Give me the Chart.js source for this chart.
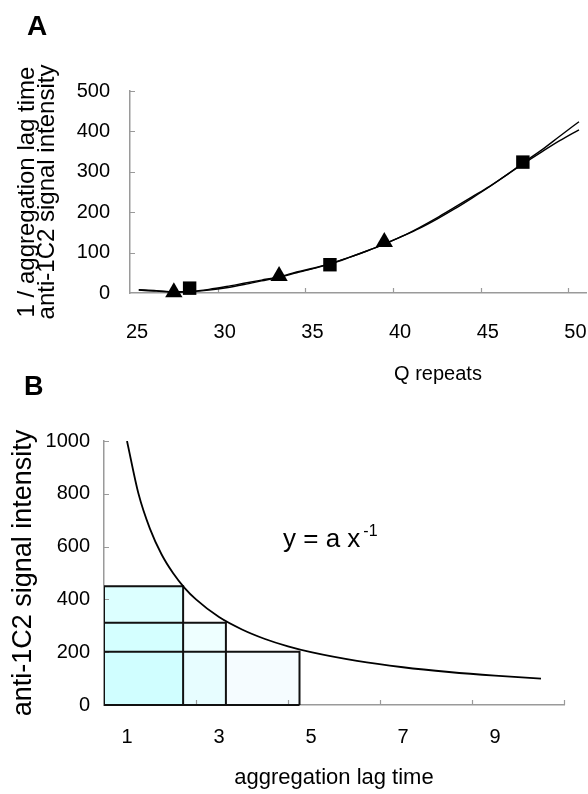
<!DOCTYPE html>
<html>
<head>
<meta charset="utf-8">
<script src="https://cdn.jsdelivr.net/npm/chart.js@4.4.1/dist/chart.umd.min.js"></script>
<style>
  html, body { margin: 0; padding: 0; background: #fff; }
  body { width: 588px; height: 794px; position: relative; overflow: hidden; }
  .panel { position: absolute; left: 0; }
  #wrapA { top: 0; width: 596px; height: 400px; }
  #wrapB { top: 360px; width: 588px; height: 434px; }
</style>
</head>
<body>
<div class="panel" id="wrapA"><canvas id="chartA"></canvas></div>
<div class="panel" id="wrapB"><canvas id="chartB"></canvas></div>
<script>
// Panel A: Q repeats vs 1/lag time and anti-1C2 signal, two fitted curves + measured points
const A_X_TICKS = [25, 30, 35, 40, 45, 50];
const A_Y_TICKS = [0, 100, 200, 300, 400, 500];

const FIT1_Q = [25.5, 26.5, 27.5, 28.5, 29.5, 30.5, 31.5, 32.5, 33.5, 34.5, 35.5, 36.5, 37.5, 38.5, 39.5, 40.5, 41.5, 42.5, 43.5, 44.5, 45.5, 46.5, 47.5, 48.5, 49.5, 50.6];
const FIT1_Y = [8, 6, 3, 4, 9, 16, 24, 32, 40, 52, 62, 74, 88, 104, 121, 140, 162, 186, 212, 238, 264, 293, 325, 355, 388, 424];
const FIT2_Q = [25.5, 26.5, 27.5, 28.5, 29.5, 30.5, 31.5, 32.5, 33.5, 34.5, 35.5, 36.5, 37.5, 38.5, 39.5, 40.5, 41.5, 42.5, 43.5, 44.5, 45.5, 46.5, 47.5, 48.5, 49.5, 50.6];
const FIT2_Y = [7, 5, 2, 3, 7, 13, 21, 30, 39, 50, 61, 73, 88, 104, 121, 140, 160, 183, 208, 235, 263, 293, 322, 350, 377, 404];

// triangles: 1/aggregation lag time, squares: anti-1C2 signal intensity
const TRI_Q = [27.5, 33.5, 39.5];
const TRI_Y = [2, 42, 126];
const SQ_Q = [28.4, 36.4, 47.4];
const SQ_Y = [12, 70, 324];

// Panel B: signal intensity vs lag time, y = a/x with three equal-area rectangles
const B_X_TICKS = [1, 3, 5, 7, 9];
const B_X_MARKS = [2.5, 4.5, 6.5, 8.5, 10.5];
const B_Y_TICKS = [0, 200, 400, 600, 800, 1000];

const LAG = [1, 1.25, 1.5, 1.75, 2, 2.25, 2.5, 3, 3.5, 4, 4.5, 5, 6, 7, 8, 9, 10];
const SIGNAL = [1000, 800, 667, 571, 500, 444, 400, 333, 286, 250, 222, 200, 167, 143, 125, 111, 100];

const RECT_LEFT = 0.5;
const RECT_RIGHT = [2.22, 3.15, 4.75];
const RECT_TOP = [450, 312, 202];

const FONT = '"Liberation Sans", Arial, sans-serif';
const AXIS_GREY = '#9a9a9a';
const RECT_FILLS = ['rgba(185,255,255,0.5)', 'rgba(205,255,255,0.35)', 'rgba(205,240,255,0.2)'];

Chart.defaults.font.family = FONT;
Chart.defaults.color = '#000';

function pts(xs, ys) { return xs.map((x, i) => ({ x: x, y: ys[i] })); }
function fixTicks(list) { return function (s) { s.ticks = list.map(v => ({ value: v })); }; }
const plain = v => String(v);

// short tick marks pointing into the plot, as in the original
const innerTicks = {
  id: 'innerTicks',
  beforeDatasetsDraw(chart, args, opts) {
    const { ctx, scales: { x, y } } = chart;
    ctx.save();
    ctx.strokeStyle = AXIS_GREY;
    ctx.lineWidth = 1.2;
    ctx.beginPath();
    (opts.xMarks || []).forEach(v => {
      const px = Math.round(x.getPixelForValue(v)) + 0.5;
      ctx.moveTo(px, y.bottom);
      ctx.lineTo(px, y.bottom - 5);
    });
    (opts.yMarks || []).forEach(v => {
      const py = Math.round(y.getPixelForValue(v)) + 0.5;
      ctx.moveTo(x.left, py);
      ctx.lineTo(x.left + 5, py);
    });
    ctx.stroke();
    ctx.restore();
  }
};

// free text: panel letters, detached axis title, formula
const panelText = {
  id: 'panelText',
  afterDraw(chart, args, opts) {
    const ctx = chart.ctx;
    ctx.save();
    (opts.items || []).forEach(t => {
      ctx.font = t.font;
      ctx.fillStyle = '#000';
      ctx.textAlign = t.align || 'left';
      ctx.textBaseline = t.baseline || 'alphabetic';
      ctx.fillText(t.text, t.x, t.y);
      if (t.sup) {
        const w = ctx.measureText(t.text).width;
        ctx.font = t.supFont;
        ctx.fillText(t.sup, t.x + w + 3, t.supY);
      }
    });
    ctx.restore();
  }
};

function noEdgePadding(s) { s.paddingLeft = 0; s.paddingRight = 0; }

function initA() {
  new Chart(document.getElementById('chartA'), {
    type: 'scatter',
    data: {
      datasets: [
        { data: pts(SQ_Q, SQ_Y), pointStyle: 'rect', pointRadius: 9.5, backgroundColor: '#000', borderColor: '#000', borderWidth: 0, clip: false },
        { data: pts(TRI_Q, TRI_Y), pointStyle: 'triangle', pointRadius: 10, backgroundColor: '#000', borderColor: '#000', borderWidth: 0, clip: false },
        { type: 'line', data: pts(FIT1_Q, FIT1_Y), borderColor: '#000', borderWidth: 1.4, pointRadius: 0, cubicInterpolationMode: 'monotone', fill: false },
        { type: 'line', data: pts(FIT2_Q, FIT2_Y), borderColor: '#000', borderWidth: 1.4, pointRadius: 0, cubicInterpolationMode: 'monotone', fill: false }
      ]
    },
    options: {
      responsive: true,
      maintainAspectRatio: false,
      animation: false,
      events: [],
      layout: { padding: { top: 91, right: 2, left: 0, bottom: 0 } },
      plugins: {
        legend: { display: false },
        tooltip: { enabled: false },
        innerTicks: { xMarks: [30, 35, 40, 45, 50], yMarks: [100, 200, 300, 400, 500] },
        panelText: {
          items: [
            { text: 'A', x: 27, y: 35, font: 'bold 28px ' + FONT },
            { text: 'Q repeats', x: 438, y: 374, font: '20px ' + FONT, align: 'center', baseline: 'middle' }
          ]
        }
      },
      scales: {
        x: {
          type: 'linear', min: 25, max: 51,
          afterBuildTicks: fixTicks(A_X_TICKS),
          afterFit: s => { s.height = 107; noEdgePadding(s); },
          grid: { display: false, drawTicks: false },
          border: { color: AXIS_GREY, width: 1.5 },
          ticks: { padding: 27, labelOffset: 7, autoSkip: false, maxRotation: 0, font: { size: 20 }, callback: plain }
        },
        y: {
          min: 0, max: 500,
          afterBuildTicks: fixTicks(A_Y_TICKS),
          afterFit: s => { s.width = 130; },
          grid: { display: false, drawTicks: false },
          border: { color: AXIS_GREY, width: 1.5 },
          ticks: { padding: 20, font: { size: 20 }, callback: plain },
          title: {
            display: true,
            text: ['1 / aggregation lag time', 'anti-1C2 signal intensity'],
            font: { size: 24, lineHeight: 0.82 },
            padding: { top: 18, bottom: 0 }
          }
        }
      }
    },
    plugins: [innerTicks, panelText]
  });
}

function initB() {
  const rects = RECT_RIGHT.map((r, i) => ({
    type: 'line',
    data: [
      { x: RECT_LEFT, y: 0 }, { x: RECT_LEFT, y: RECT_TOP[i] },
      { x: r, y: RECT_TOP[i] }, { x: r, y: 0 }
    ],
    borderColor: '#111',
    borderWidth: 2,
    backgroundColor: RECT_FILLS[i],
    fill: 'origin',
    pointRadius: 0,
    tension: 0
  }));
  // common bottom edge of the rectangles
  const base = {
    type: 'line',
    data: [{ x: RECT_LEFT, y: 0 }, { x: Math.max.apply(null, RECT_RIGHT), y: 0 }],
    borderColor: '#111', borderWidth: 2, pointRadius: 0, fill: false, clip: false
  };

  new Chart(document.getElementById('chartB'), {
    type: 'scatter',
    data: {
      datasets: [
        { type: 'line', data: pts(LAG, SIGNAL), borderColor: '#000', borderWidth: 1.8, pointRadius: 0, cubicInterpolationMode: 'monotone', fill: false },
        base
      ].concat(rects)
    },
    options: {
      responsive: true,
      maintainAspectRatio: false,
      animation: false,
      events: [],
      layout: { padding: { top: 81, right: 24, left: 0, bottom: 0 } },
      plugins: {
        legend: { display: false },
        tooltip: { enabled: false },
        filler: { drawTime: 'beforeDatasetsDraw' },
        innerTicks: { xMarks: B_X_MARKS, yMarks: [200, 400, 600, 800, 1000] },
        panelText: {
          items: [
            { text: 'B', x: 24, y: 35, font: 'bold 27px ' + FONT },
            { text: 'y = a x', x: 283, y: 187, font: '26px ' + FONT, sup: '-1', supFont: '16px ' + FONT, supY: 176 }
          ]
        }
      },
      scales: {
        x: {
          type: 'linear', min: 0.5, max: 10.5,
          afterBuildTicks: fixTicks(B_X_TICKS),
          afterFit: s => { s.height = 89; noEdgePadding(s); },
          grid: { display: false, drawTicks: false },
          border: { color: AXIS_GREY, width: 1.5 },
          ticks: { padding: 20, autoSkip: false, maxRotation: 0, font: { size: 20 }, callback: plain },
          title: { display: true, text: 'aggregation lag time', font: { size: 22 }, padding: { top: 0, bottom: 3 } }
        },
        y: {
          min: 0, max: 1000,
          afterBuildTicks: fixTicks(B_Y_TICKS),
          afterFit: s => { s.width = 104; },
          grid: { display: false, drawTicks: false },
          border: { color: AXIS_GREY, width: 1.5 },
          ticks: { padding: 14, font: { size: 20 }, callback: plain },
          title: { display: true, text: 'anti-1C2 signal intensity', font: { size: 27 }, padding: { top: 7, bottom: 0 } }
        }
      }
    },
    plugins: [innerTicks, panelText]
  });
}

initA();
initB();
</script>
</body>
</html>
